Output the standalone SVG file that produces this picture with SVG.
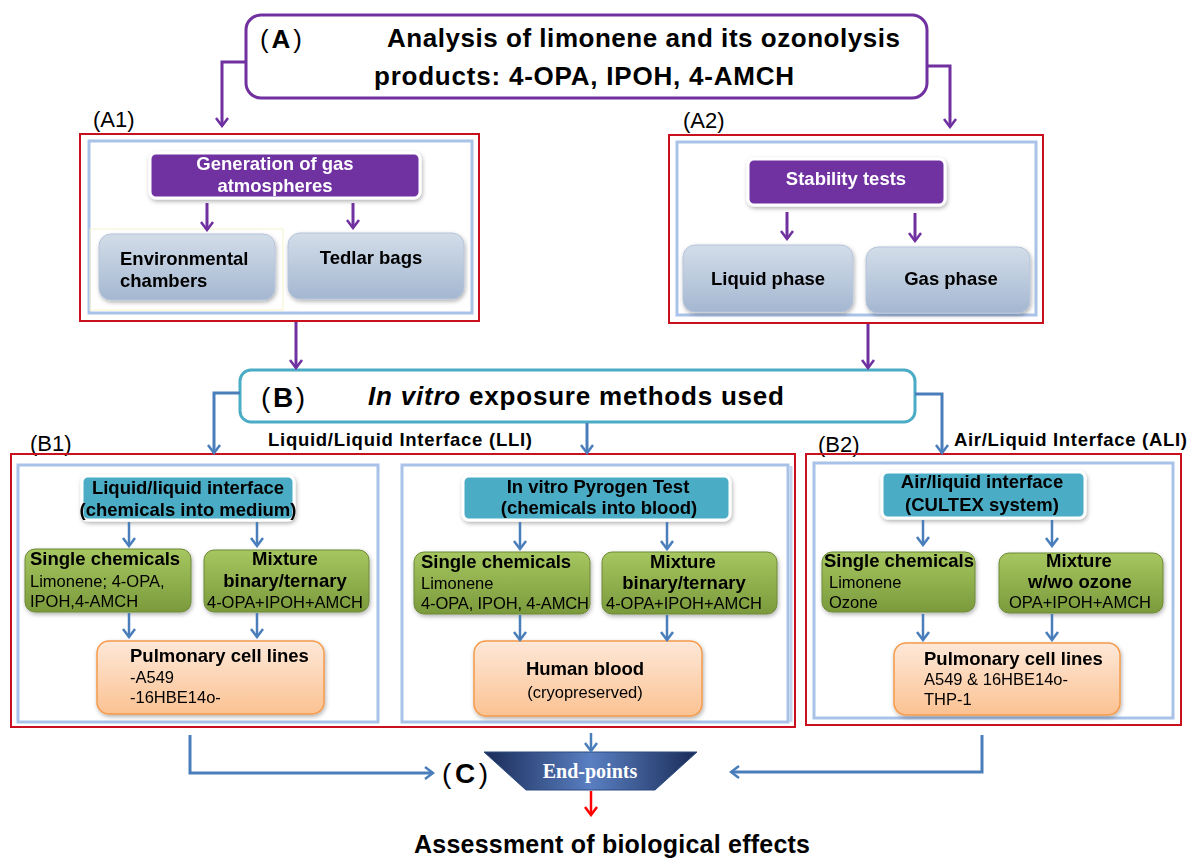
<svg xmlns="http://www.w3.org/2000/svg" width="1189" height="863" viewBox="0 0 1189 863">
<defs>
<style>
text{font-family:"Liberation Sans",Arial,sans-serif;fill:#000}
.b{font-weight:bold}
.w{fill:#fff}
.lbl{font-size:22px}
.red{fill:none;stroke:#c8101e;stroke-width:2}
.inner{fill:#fff;stroke:#a9c2e8;stroke-width:3}
.pur{fill:#7030a0;stroke:#fff;stroke-width:3}
.teal{fill:#4bacc6;stroke:#fff;stroke-width:3}
.grey{fill:url(#gGrey);stroke:#b4c4da;stroke-width:1}
.green{fill:url(#gGreen);stroke:#6d8a36;stroke-width:1}
.orng{fill:url(#gOr);stroke:#f59a4a;stroke-width:1.5}
.cp{fill:none;stroke:#7030a0;stroke-width:3}
.cb{fill:none;stroke:#4a7ebb;stroke-width:3}
.cb2{fill:none;stroke:#4a7ebb;stroke-width:2.5}
.cr{fill:none;stroke:#ff0000;stroke-width:2.5}
.tb{font-size:18.5px;font-weight:bold}
.tr{font-size:16.5px}
</style>
<linearGradient id="gGrey" x1="0" y1="0" x2="0" y2="1"><stop offset="0" stop-color="#d3dde9"/><stop offset="1" stop-color="#a4b7d1"/></linearGradient>
<linearGradient id="gGreen" x1="0" y1="0" x2="0" y2="1"><stop offset="0" stop-color="#a6c660"/><stop offset="1" stop-color="#7b9a3c"/></linearGradient>
<linearGradient id="gOr" x1="0" y1="0" x2="0" y2="1"><stop offset="0" stop-color="#fee8d8"/><stop offset="1" stop-color="#fbc292"/></linearGradient>
<linearGradient id="gEnd" x1="0" y1="0" x2="1" y2="0"><stop offset="0" stop-color="#1a2c57"/><stop offset="0.5" stop-color="#5a7fc2"/><stop offset="1" stop-color="#1a2c57"/></linearGradient>
<filter id="sh" x="-10%" y="-10%" width="125%" height="135%"><feDropShadow dx="1" dy="2" stdDeviation="2" flood-color="#000" flood-opacity="0.3"/></filter>
<marker id="ap" viewBox="-10 -8 12 16" refX="0" refY="0" markerWidth="12" markerHeight="16" markerUnits="userSpaceOnUse" orient="auto"><path d="M-8,-6 L0,0 L-8,6" fill="none" stroke="#7030a0" stroke-width="2.5"/></marker>
<marker id="ab" viewBox="-10 -8 12 16" refX="0" refY="0" markerWidth="12" markerHeight="16" markerUnits="userSpaceOnUse" orient="auto"><path d="M-8,-6 L0,0 L-8,6" fill="none" stroke="#4a7ebb" stroke-width="2.5"/></marker>
<marker id="ar" viewBox="-10 -8 12 16" refX="0" refY="0" markerWidth="12" markerHeight="16" markerUnits="userSpaceOnUse" orient="auto"><path d="M-8,-6 L0,0 L-8,6" fill="none" stroke="#ff0000" stroke-width="2.5"/></marker>
</defs>
<rect width="1189" height="863" fill="#fff"/>

<g id="nodeA">
<rect x="246" y="15" width="681" height="83" rx="15" fill="#fff" stroke="#7030a0" stroke-width="3"/>
<text x="260" y="48" font-size="26" textLength="42">(<tspan class="b">A</tspan>)</text>
<text class="b" x="387" y="47" font-size="26" textLength="513">Analysis of limonene and its ozonolysis</text>
<text class="b" x="374" y="85" font-size="26" textLength="420">products: 4-OPA, IPOH, 4-AMCH</text>
</g>

<g id="groupA1">
<text class="lbl" x="93" y="127">(A1)</text>
<rect class="red" x="80" y="134" width="399" height="187"/>
<rect class="inner" x="89" y="141" width="383" height="172"/>
<rect x="90" y="229" width="193" height="81" fill="none" stroke="#f6f3c8" stroke-width="1"/>
</g>
<g id="nodeGen" filter="url(#sh)">
<rect class="pur" x="150" y="153" width="270" height="45" rx="6"/>
<text class="tb w" x="275" y="170" text-anchor="middle">Generation of gas</text>
<text class="tb w" x="275" y="192" text-anchor="middle">atmospheres</text>
</g>
<g id="nodeEnv" filter="url(#sh)">
<rect class="grey" x="99" y="234" width="176" height="66" rx="12"/>
<text class="tb" x="120" y="265">Environmental</text>
<text class="tb" x="120" y="287">chambers</text>
</g>
<g id="nodeTedlar" filter="url(#sh)">
<rect class="grey" x="288" y="233" width="176" height="66" rx="12"/>
<text class="tb" x="371" y="264" text-anchor="middle">Tedlar bags</text>
</g>

<g id="groupA2">
<text class="lbl" x="683" y="128">(A2)</text>
<rect class="red" x="669" y="135" width="374" height="188"/>
<rect class="inner" x="677" y="142" width="359" height="173"/>
</g>
<g id="nodeStab" filter="url(#sh)">
<rect class="pur" x="748" y="159" width="197" height="46" rx="6"/>
<text class="tb w" x="846" y="185" text-anchor="middle">Stability tests</text>
</g>
<g id="nodeLiq" filter="url(#sh)">
<rect class="grey" x="683" y="245" width="170" height="67" rx="12"/>
<text class="tb" x="768" y="285" text-anchor="middle">Liquid phase</text>
</g>
<g id="nodeGas" filter="url(#sh)">
<rect class="grey" x="866" y="247" width="164" height="66" rx="12"/>
<text class="tb" x="951" y="285" text-anchor="middle">Gas phase</text>
</g>

<g id="nodeB">
<rect x="240" y="370" width="675" height="52" rx="11" fill="#fff" stroke="#4bacc6" stroke-width="3"/>
<text x="261" y="407" font-size="28" textLength="44">(<tspan class="b">B</tspan>)</text>
<text class="b" x="368" y="405" font-size="26" textLength="416"><tspan font-style="italic">In vitro</tspan> exposure methods used</text>
</g>

<text class="b" x="268" y="446" font-size="18.5" textLength="264">Liquid/Liquid  Interface (LLI)</text>
<text class="b" x="954" y="446" font-size="18.5" textLength="233">Air/Liquid  Interface (ALI)</text>

<g id="groupB1">
<text class="lbl" x="30" y="451">(B1)</text>
<rect x="18" y="465" width="360" height="257" fill="#fff" stroke="#a9c2e8" stroke-width="3"/>
<rect x="402" y="465" width="386" height="257" fill="#fff" stroke="#a9c2e8" stroke-width="3"/>
<line x1="791" y1="466" x2="791" y2="722" stroke="#c3d4ef" stroke-width="3"/>
<rect class="red" x="11" y="454" width="784" height="273"/>
</g>
<g id="nodeLLI" filter="url(#sh)">
<rect class="teal" x="82" y="476" width="212" height="44" rx="6"/>
<text class="tb" x="188" y="494" text-anchor="middle">Liquid/liquid interface</text>
<text class="tb" x="188" y="516" text-anchor="middle">(chemicals into medium)</text>
</g>
<g id="nodeSingle1" filter="url(#sh)">
<rect class="green" x="25" y="549" width="166" height="63" rx="10"/>
<text class="tb" x="30" y="565">Single chemicals</text>
<text class="tr" x="30" y="587">Limonene; 4-OPA,</text>
<text class="tr" x="30" y="607">IPOH,4-AMCH</text>
</g>
<g id="nodeMix1" filter="url(#sh)">
<rect class="green" x="204" y="550" width="165" height="62" rx="10"/>
<text class="tb" x="285" y="565" text-anchor="middle">Mixture</text>
<text class="tb" x="285" y="587" text-anchor="middle">binary/ternary</text>
<text class="tr" x="285" y="608" text-anchor="middle" textLength="156">4-OPA+IPOH+AMCH</text>
</g>
<g id="nodePulm1" filter="url(#sh)">
<rect class="orng" x="97" y="641" width="227" height="73" rx="12"/>
<text class="tb" x="130" y="662">Pulmonary cell lines</text>
<text class="tr" x="130" y="683">-A549</text>
<text class="tr" x="130" y="703">-16HBE14o-</text>
</g>
<g id="nodePyro" filter="url(#sh)">
<rect class="teal" x="463" y="476" width="267" height="44" rx="6"/>
<text class="tb" x="598" y="493" text-anchor="middle">In vitro Pyrogen  Test</text>
<text class="tb" x="599" y="514" text-anchor="middle">(chemicals into blood)</text>
</g>
<g id="nodeSingle2" filter="url(#sh)">
<rect class="green" x="414" y="552" width="176" height="62" rx="10"/>
<text class="tb" x="421" y="568">Single chemicals</text>
<text class="tr" x="421" y="589">Limonene</text>
<text class="tr" x="421" y="609" textLength="168">4-OPA, IPOH, 4-AMCH</text>
</g>
<g id="nodeMix2" filter="url(#sh)">
<rect class="green" x="602" y="552" width="175" height="62" rx="10"/>
<text class="tb" x="683" y="568" text-anchor="middle">Mixture</text>
<text class="tb" x="684" y="589" text-anchor="middle">binary/ternary</text>
<text class="tr" x="684" y="609" text-anchor="middle" textLength="156">4-OPA+IPOH+AMCH</text>
</g>
<g id="nodeBlood" filter="url(#sh)">
<rect class="orng" x="474" y="641" width="228" height="75" rx="12"/>
<text class="tb" x="585" y="675" text-anchor="middle">Human blood</text>
<text class="tr" x="585" y="698" text-anchor="middle">(cryopreserved)</text>
</g>

<g id="groupB2">
<text class="lbl" x="818" y="452">(B2)</text>
<rect x="814" y="463" width="359" height="255" fill="#fff" stroke="#a9c2e8" stroke-width="3"/>
<rect class="red" x="806" y="454" width="375" height="271"/>
</g>
<g id="nodeALI" filter="url(#sh)">
<rect class="teal" x="882" y="472" width="203" height="46" rx="6"/>
<text class="tb" x="982" y="488" text-anchor="middle">Air/liquid interface</text>
<text class="tb" x="982" y="511" text-anchor="middle">(CULTEX system)</text>
</g>
<g id="nodeSingle3" filter="url(#sh)">
<rect class="green" x="822" y="552" width="153" height="60" rx="10"/>
<text class="tb" x="824" y="567" textLength="150">Single chemicals</text>
<text class="tr" x="829" y="588">Limonene</text>
<text class="tr" x="829" y="608">Ozone</text>
</g>
<g id="nodeMix3" filter="url(#sh)">
<rect class="green" x="999" y="553" width="164" height="60" rx="10"/>
<text class="tb" x="1079" y="567" text-anchor="middle">Mixture</text>
<text class="tb" x="1080" y="588" text-anchor="middle">w/wo ozone</text>
<text class="tr" x="1080" y="608" text-anchor="middle" textLength="142">OPA+IPOH+AMCH</text>
</g>
<g id="nodePulm3" filter="url(#sh)">
<rect class="orng" x="894" y="643" width="226" height="72" rx="12"/>
<text class="tb" x="924" y="665">Pulmonary cell lines</text>
<text class="tr" x="924" y="685">A549 &amp; 16HBE14o-</text>
<text class="tr" x="924" y="705">THP-1</text>
</g>

<g id="nodeC">
<text x="442" y="783" font-size="28" textLength="46">(<tspan class="b">C</tspan>)</text>
<polygon points="484,752 697,752 655,790 526,790" fill="url(#gEnd)" stroke="#2b4a80" stroke-width="1"/>
<text x="590" y="778" font-weight="bold" font-size="20" text-anchor="middle" style="font-family:'Liberation Serif',serif;fill:#fff">End-points</text>
</g>

<g id="result">
<text class="b" x="612" y="853" font-size="25" text-anchor="middle" textLength="396">Assessment of biological effects</text>
</g>

<g id="connectors">
<path class="cp" d="M246,62 H222 V126" marker-end="url(#ap)"/>
<path class="cp" d="M927,66 H950 V127" marker-end="url(#ap)"/>
<path class="cp" d="M207,203 V230" marker-end="url(#ap)"/>
<path class="cp" d="M353,203 V228" marker-end="url(#ap)"/>
<path class="cp" d="M787,212 V239" marker-end="url(#ap)"/>
<path class="cp" d="M915,213 V241" marker-end="url(#ap)"/>
<path class="cp" d="M296,322 V368" marker-end="url(#ap)"/>
<path class="cp" d="M868,324 V368" marker-end="url(#ap)"/>
<path class="cb" d="M240,393 H214 V453" marker-end="url(#ab)"/>
<path class="cb" d="M587,423 V453" marker-end="url(#ab)"/>
<path class="cb" d="M915,394 H942 V453" marker-end="url(#ab)"/>
<path class="cb2" d="M129,522 V546" marker-end="url(#ab)"/>
<path class="cb2" d="M257,522 V546" marker-end="url(#ab)"/>
<path class="cb2" d="M129,613 V637" marker-end="url(#ab)"/>
<path class="cb2" d="M257,613 V637" marker-end="url(#ab)"/>
<path class="cb2" d="M520,522 V549" marker-end="url(#ab)"/>
<path class="cb2" d="M667,522 V549" marker-end="url(#ab)"/>
<path class="cb2" d="M520,615 V640" marker-end="url(#ab)"/>
<path class="cb2" d="M667,615 V640" marker-end="url(#ab)"/>
<path class="cb2" d="M923,520 V545" marker-end="url(#ab)"/>
<path class="cb2" d="M1052,520 V546" marker-end="url(#ab)"/>
<path class="cb2" d="M923,614 V640" marker-end="url(#ab)"/>
<path class="cb2" d="M1052,614 V640" marker-end="url(#ab)"/>
<path class="cb" d="M190,735 V773 H433" marker-end="url(#ab)"/>
<path class="cb" d="M982,735 V772 H731" marker-end="url(#ab)"/>
<path class="cb2" d="M591,733 V751" marker-end="url(#ab)"/>
<path class="cr" d="M591,791 V815" marker-end="url(#ar)"/>
</g>
</svg>
